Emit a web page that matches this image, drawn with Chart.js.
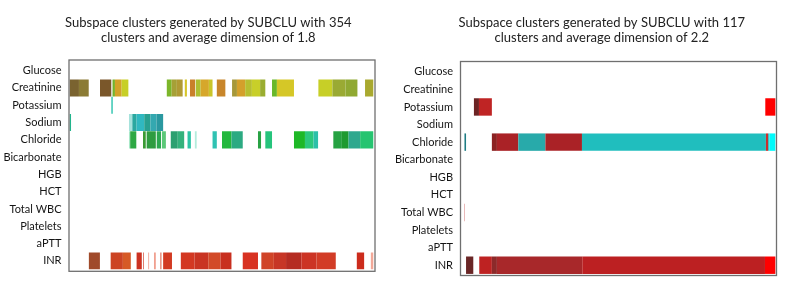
<!DOCTYPE html>
<html>
<head>
<meta charset="utf-8">
<script src="https://cdn.jsdelivr.net/npm/chart.js@4.4.0/dist/chart.umd.min.js"></script>
<style>
  body { margin: 0; background: #fff; }
  #wrap { position: relative; width: 790px; height: 292px; }
  .panel { position: absolute; top: 0; width: 395px; height: 292px; }
</style>
</head>
<body>
<div id="wrap">
  <div class="panel" style="left:0"><canvas id="leftChart"></canvas></div>
  <div class="panel" style="left:395px"><canvas id="rightChart"></canvas></div>
</div>
<script>
// row labels (top to bottom)
const rowNames = ['Glucose', 'Creatinine', 'Potassium', 'Sodium', 'Chloride', 'Bicarbonate',
  'HGB', 'HCT', 'Total WBC', 'Platelets', 'aPTT', 'INR'];

const leftTitle = ['Subspace clusters generated by SUBCLU with 354', 'clusters and average dimension of 1.8'];
const rightTitle = ['Subspace clusters generated by SUBCLU with 117', 'clusters and average dimension of 2.2'];

// left panel: segments [start, end] on a 0-100 axis, colours kept apart
const leftCreatinine = [[0, 3.1], [3.1, 6.3], [10.0, 13.7], [14.1, 14.9], [14.9, 17.1], [17.1, 19.3],
  [31.9, 33.5], [33.5, 35.2], [35.2, 37.1], [37.8, 38.5], [39.5, 41.2], [41.4, 43.0], [43.0, 45.7],
  [45.7, 46.9], [48.3, 51.1], [53.3, 54.9], [54.9, 57.6], [57.6, 59.8], [59.8, 62.5], [62.5, 64.2],
  [66.4, 68.0], [68.0, 73.6], [81.6, 86.2], [86.2, 90.5], [90.5, 94.4], [96.9, 99.6]];
const leftCreatinineColors = ['#7a6330', '#8b7b35', '#7a572a', '#74b22a', '#d3a229', '#c7cf27',
  '#7cb62a', '#a6a036', '#b09a34', '#d6c62b', '#c9802a', '#aebf31', '#d6a72b', '#c9c52a',
  '#c8862b', '#a6983a', '#d4a02b', '#b7bf30', '#c8cf29', '#9aad31', '#68b82a', '#d5c727',
  '#c7cf27', '#9aaa33', '#90a932', '#a9a92f'];

const leftPotassium = [[13.7, 14.2]];
const leftPotassiumColors = ['#3cc8b4'];

const leftSodium = [[0, 0.5], [19.5, 20.6], [20.6, 22.0], [22.0, 24.5], [24.5, 26.5], [26.5, 28.5], [28.5, 30.7]];
const leftSodiumColors = ['#22b48c', '#a6e2dc', '#2aa8a0', '#30b8c0', '#28a090', '#34a8b0', '#2a98a0'];

const leftChloride = [[19.5, 19.9], [19.9, 21.9], [24.1, 25.0], [25.3, 28.3], [28.6, 30.0], [30.3, 31.6],
  [33.2, 35.5], [35.5, 37.6], [38.7, 39.8], [41.1, 41.7], [46.9, 48.3], [50.0, 53.1], [53.1, 56.8],
  [61.8, 62.8], [64.2, 66.4], [73.6, 77.2], [77.2, 80.0], [80.0, 81.5], [86.5, 89.3], [89.3, 91.5],
  [91.5, 95.3], [95.3, 99.6]];
const leftChlorideColors = ['#a8e8c8', '#2ea844', '#3a9a34', '#2e9c40', '#2ca850', '#5cc878',
  '#2ca070', '#34b27c', '#2cc4a4', '#b4ecdc', '#30c2b2', '#24b83e', '#2caa82', '#28a244',
  '#26c47c', '#1eb826', '#2cc87c', '#2cc0a8', '#26a242', '#1e9a30', '#2ea88e', '#26c470'];

const leftINR = [[6.35, 9.97], [13.5, 17.5], [17.5, 20.1], [22.0, 23.7], [24.1, 24.4], [25.8, 26.1],
  [27.7, 28.3], [29.7, 30.2], [30.7, 33.6], [36.5, 41.0], [41.0, 45.5], [45.5, 49.5], [49.5, 53.1],
  [56.8, 61.8], [62.9, 67.0], [67.0, 71.0], [71.0, 76.0], [76.0, 81.0], [81.0, 87.3], [94.2, 96.6],
  [98.8, 99.6]];
const leftINRColors = ['#a04a2a', '#cc4424', '#d65a26', '#cc3222', '#e07060', '#f0a898', '#f0a090',
  '#e89080', '#d23a22', '#d33822', '#c93422', '#d24a28', '#c82f1f', '#d83222', '#d04428', '#c73626',
  '#b52c22', '#cc3424', '#d23c26', '#cc2c1c', '#f2a898'];

// right panel
const rightPotassium = [[4.1, 5.7], [5.7, 9.8], [96.6, 99.8]];
const rightPotassiumColors = ['#6c2424', '#bf2424', '#ff0000'];

const rightChloride = [[1.1, 1.6], [9.8, 11.4], [11.4, 18.2], [18.2, 26.8], [26.8, 38.4], [38.4, 96.8],
  [96.8, 97.5], [97.5, 97.9], [97.9, 99.8]];
const rightChlorideColors = ['#1e7c84', '#8c2222', '#aa2226', '#28aaaa', '#aa2226', '#20bebe',
  '#c83030', '#20bebe', '#00fafa'];

const rightTotalWBC = [[1.0, 1.25]];
const rightTotalWBCColors = ['#e4a8a8'];

const rightINR = [[1.6, 3.9], [5.8, 9.8], [9.8, 11.4], [11.4, 38.5], [38.5, 96.5], [96.5, 99.8]];
const rightINRColors = ['#6a2626', '#be2222', '#8c2a2a', '#a8282a', '#bc2022', '#ff0000'];


function rowDataset(row, segs, colors) {
  return {
    label: row,
    data: segs.map(s => ({ x: s, y: row })),
    backgroundColor: colors,
    borderWidth: 0,
    grouped: false,
    barPercentage: 1,
    categoryPercentage: 0.99
  };
}

// grey frame round the plot + the two-line title, centred where the original has it
const panelPlugin = {
  id: 'panel',
  afterDraw(chart, args, opts) {
    const a = chart.chartArea;
    const ctx = chart.ctx;
    ctx.save();
    ctx.strokeStyle = '#6f6f6f';
    ctx.lineWidth = 1.3;
    ctx.strokeRect(a.left - 0.5, a.top - opts.outTop, a.right - a.left + 1, a.bottom - a.top + opts.outTop + opts.outBottom);
    ctx.fillStyle = '#222';
    ctx.font = '13px Lato';
    ctx.textAlign = 'center';
    ctx.textBaseline = 'middle';
    opts.title.forEach((line, i) => ctx.fillText(line, opts.titleX, 23 + i * 15));
    ctx.restore();
  }
};

function makeChart(id, title, titleX, datasets, pad, yWidth, outTop, outBottom) {
  return new Chart(document.getElementById(id), {
    type: 'bar',
    data: { labels: rowNames, datasets: datasets },
    options: {
      indexAxis: 'y',
      responsive: true,
      maintainAspectRatio: false,
      animation: false,
      layout: { padding: pad },
      scales: {
        x: { display: false, min: 0, max: 100 },
        y: {
          offset: true,
          grid: { display: false, drawTicks: false },
          border: { display: false },
          ticks: {
            padding: 8,
            color: '#151515',
            font: { family: 'Lato', size: 11 }
          },
          afterFit: (scale) => { scale.width = yWidth; }
        }
      },
      plugins: {
        legend: { display: false },
        tooltip: { enabled: false },
        title: { display: false },
        panel: { outTop: outTop, outBottom: outBottom, title: title, titleX: titleX }
      }
    },
    plugins: [panelPlugin]
  });
}

makeChart('leftChart', leftTitle, 208.3, [
  rowDataset('Creatinine', leftCreatinine, leftCreatinineColors),
  rowDataset('Potassium', leftPotassium, leftPotassiumColors),
  rowDataset('Sodium', leftSodium, leftSodiumColors),
  rowDataset('Chloride', leftChloride, leftChlorideColors),
  rowDataset('INR', leftINR, leftINRColors)
], { left: 0, right: 20.5, top: 62, bottom: 22.4 }, 69.5, 2, 1.7);

makeChart('rightChart', rightTitle, 206.8, [
  rowDataset('Potassium', rightPotassium, rightPotassiumColors),
  rowDataset('Chloride', rightChloride, rightChlorideColors),
  rowDataset('Total WBC', rightTotalWBC, rightTotalWBCColors),
  rowDataset('INR', rightINR, rightINRColors)
], { left: 0, right: 14, top: 63, bottom: 18 }, 66, 1.5, 1.5);
</script>
</body>
</html>
